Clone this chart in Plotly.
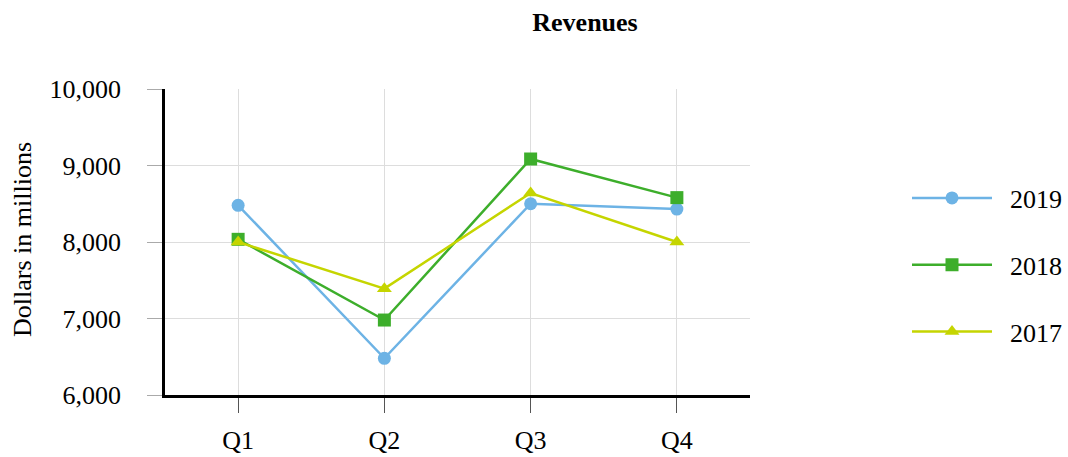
import plotly.graph_objects as go

quarters = ["Q1", "Q2", "Q3", "Q4"]
rev_2019 = [8480, 6480, 8500, 8430]
rev_2018 = [8035, 6980, 9085, 8580]
rev_2017 = [8000, 7390, 8640, 8000]
y_ticks = [6000, 7000, 8000, 9000, 10000]
series_names = ["2019", "2018", "2017"]

FONT = "Liberation Serif, Times New Roman, serif"

series = [
    (series_names[0], rev_2019, "#6DB3E5", "circle"),
    (series_names[1], rev_2018, "#3DAE2B", "square"),
    (series_names[2], rev_2017, "#C5D500", "triangle-up"),
]

fig = go.Figure()
for name, vals, color, sym in series:
    fig.add_trace(go.Scatter(
        x=quarters, y=vals, name="\u00a0\u00a0" + name, mode="lines+markers",
        line=dict(color=color, width=2.5),
        marker=dict(symbol=sym, size=13, color=color),
        legendgroup=name,
    ))

fig.update_layout(
    width=1068, height=457,
    margin=dict(l=165, r=318, t=89, b=62),
    paper_bgcolor="white", plot_bgcolor="white",
    font=dict(family=FONT, size=26, color="black"),
    title=dict(text="<b>Revenues</b>", x=585/1068, xanchor="center",
               y=1 - 22/457, yanchor="middle", font=dict(size=26, family=FONT)),
    showlegend=True,
    legend=dict(xref="container", yref="container",
                x=907/1068, xanchor="left", y=1 - 265/457, yanchor="middle",
                itemwidth=80, tracegroupgap=30, traceorder="grouped",
                font=dict(size=26, family=FONT)),
    xaxis=dict(
        range=[-0.5, 3.5], showgrid=True, gridcolor="#DDDDDD", gridwidth=1,
        showline=True, linecolor="black", linewidth=2.5,
        ticks="outside", ticklen=15, tickcolor="#555555", tickwidth=1,
        ticklabelstandoff=5, zeroline=False, fixedrange=True, automargin=False,
    ),
    yaxis=dict(
        range=[6000, 10000], tickvals=y_ticks, tickformat=",d",
        showgrid=True, gridcolor="#DDDDDD", gridwidth=1,
        showline=True, linecolor="black", linewidth=2.5,
        ticks="outside", ticklen=15, tickcolor="#AAAAAA", tickwidth=1,
        ticklabelstandoff=21, zeroline=False, automargin=False,
    ),
    annotations=[dict(
        text="Dollars in millions", xref="paper", yref="paper",
        x=(22 - 165) / 585, y=(395 - 240) / 306, xanchor="center", yanchor="middle",
        textangle=-90, showarrow=False, font=dict(size=26, family=FONT),
    )],
)

fig.write_html("out.html")
